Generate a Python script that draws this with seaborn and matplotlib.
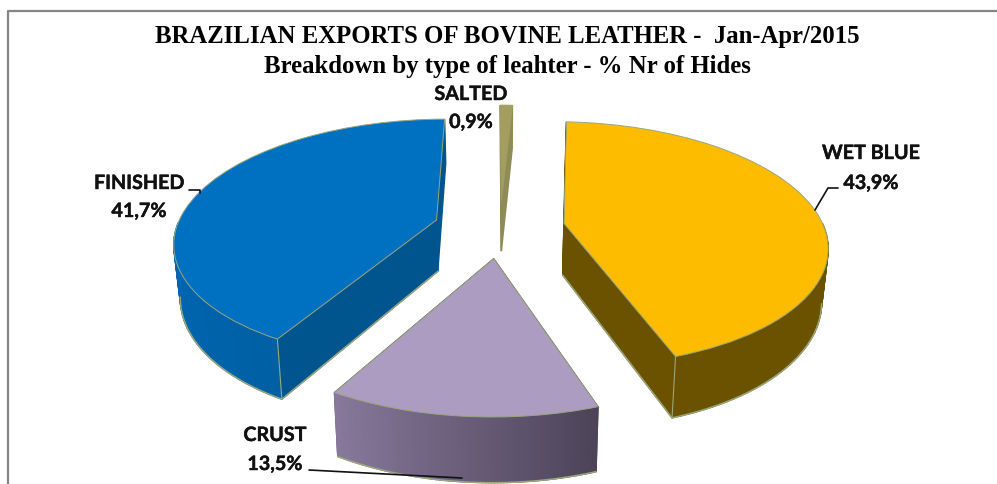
import numpy as np
import seaborn as sns
import matplotlib.pyplot as plt
import matplotlib.patheffects as pe
from matplotlib.transforms import Transform

categories = ['WET BLUE', 'CRUST', 'FINISHED', 'SALTED']
shares = [43.9, 13.5, 41.7, 0.9]
title_lines = ['BRAZILIAN EXPORTS OF BOVINE LEATHER -  Jan-Apr/2015',
               'Breakdown by type of leahter - % Nr of Hides']

top_colors = ['#FDBC00', '#AD9CC2', '#0070C0', '#A39D60']
side_left = ['#6B5200', '#88799C', '#0069B6', '#B4AF7C']
side_right = ['#6B5200', '#4C4358', '#005D9F', '#B4AF7C']
cut_colors = ['#6B5200', '#4C4358', '#00558F', '#8F8B55']
edge_color = '#9AA67C'

# camera numbers for the fake 3D look, in pixels of the final image
CX, CY = 500, 227.6
RX, RY = 260, 120
PERSP = 0.167
DEPTH = 52
SHRINK = 0.02


def project(x, y, z=0.0):
    s = 1 / (1 + PERSP * y)
    return CX + RX * x * s * (1 - SHRINK * z), CY - RY * y * s + DEPTH * z * s


class PieProjection(Transform):
    input_dims = 2
    output_dims = 2

    def transform_non_affine(self, values):
        px, py = project(values[:, 0], values[:, 1])
        return np.column_stack([px, py])


sns.set_theme(style='white')
fig, ax = plt.subplots(figsize=(9.97, 4.84), dpi=100)
ax.set_position([0, 0, 1, 1])

wedges, _ = ax.pie(shares, startangle=87, counterclock=False,
                   explode=[0.25, 0.25, 0.255, 0.23], radius=1)
ax.set_aspect('auto')
ax.set_xlim(0, 997)
ax.set_ylim(484, 0)
ax.axis('off')


def draw_side(xs, ys, color):
    # one vertical strip between two rim points
    top = project(xs, ys)
    low = project(xs, ys, 1.0)
    ax.fill(np.r_[top[0], low[0][::-1]], np.r_[top[1], low[1][::-1]],
            fc=color, ec=color, lw=1.0, zorder=1)


for i, w in enumerate(wedges):
    cx, cy = w.center
    ang = np.radians(np.linspace(w.theta1, w.theta2, 90))
    rim_x = cx + w.r * np.cos(ang)
    rim_y = cy + w.r * np.sin(ang)

    # cut faces first, the rim goes over them
    for k in (0, -1):
        xs, ys = np.array([cx, rim_x[k]]), np.array([cy, rim_y[k]])
        draw_side(xs, ys, cut_colors[i])

    # outer rim, only the part facing the viewer, shaded left to right
    front = np.where(rim_y < cy)[0]
    order = np.argsort(rim_x)
    pal = sns.blend_palette([side_left[i], side_right[i]], len(ang))
    rank = np.empty(len(ang), dtype=int)
    rank[order] = np.arange(len(ang))
    for j in front[:-1]:
        draw_side(rim_x[j:j + 2], rim_y[j:j + 2], pal[rank[j]])

    # pale edges, the very thin slice has none
    if shares[i] > 1:
        # lower rim only from the point where it leaves the silhouette
        low = project(rim_x, rim_y, 1.0)
        ext = np.argmin(low[0]) if cx < 0 else np.argmax(low[0])
        keep = rim_y <= rim_y[ext]
        ax.plot(low[0][keep], low[1][keep], color=edge_color, lw=1.1, zorder=1.5)
        if categories[i] != 'CRUST':
            k = 0 if rim_y[0] < rim_y[-1] else -1
            xs, ys = np.array([cx, rim_x[k]]), np.array([cy, rim_y[k]])
            low = project(xs, ys, 1.0)
            ax.plot(low[0], low[1], color=edge_color, lw=1.1, zorder=1.5)
            up = project(rim_x[k], rim_y[k])
            ax.plot([up[0], low[0][1]], [up[1], low[1][1]], color=edge_color, lw=0.8, zorder=1.5)

    w.set_transform(PieProjection() + ax.transData)
    w.set_facecolor(top_colors[i])
    w.set_edgecolor(edge_color if shares[i] > 1 else top_colors[i])
    w.set_linewidth(0.7)
    w.set_zorder(2)

# label text, comma decimals like the source
label_font = dict(family='Lato', weight='bold', fontsize=14.2, color='#111111',
                  ha='center', va='center', zorder=4,
                  path_effects=[pe.withStroke(linewidth=0.3, foreground='#111111')])
label_pos = [(871, 153, 871, 183), (275, 435, 275, 464),
             (139.5, 183, 139, 211), (471, 94, 471, 122)]
for name, val, pos in zip(categories, shares, label_pos):
    ax.text(pos[0], pos[1], name, **label_font)
    ax.text(pos[2], pos[3], f'{val:.1f}%'.replace('.', ','), **label_font)

# leader lines
ax.plot([189, 200, 200], [190, 190, 193], color='#111111', lw=1.2, zorder=3)
ax.plot([838, 828, 815], [188, 188, 210], color='#111111', lw=1.2, zorder=3)
ax.plot([309, 462], [470, 478], color='#111111', lw=1.2, zorder=3)

# chart border, cut off at the right and bottom of the image
ax.plot([8, 8, 997], [484, 11, 11], color='#868686', lw=1.6, zorder=0, clip_on=False)

title_font = dict(family='Liberation Serif', weight='bold', fontsize=17.8,
                  color='black', ha='center', va='center', zorder=4)
ax.text(507, 37, title_lines[0], **title_font)
ax.text(507, 66, title_lines[1], **title_font)

fig.savefig('out.png', dpi=100, facecolor='white')
